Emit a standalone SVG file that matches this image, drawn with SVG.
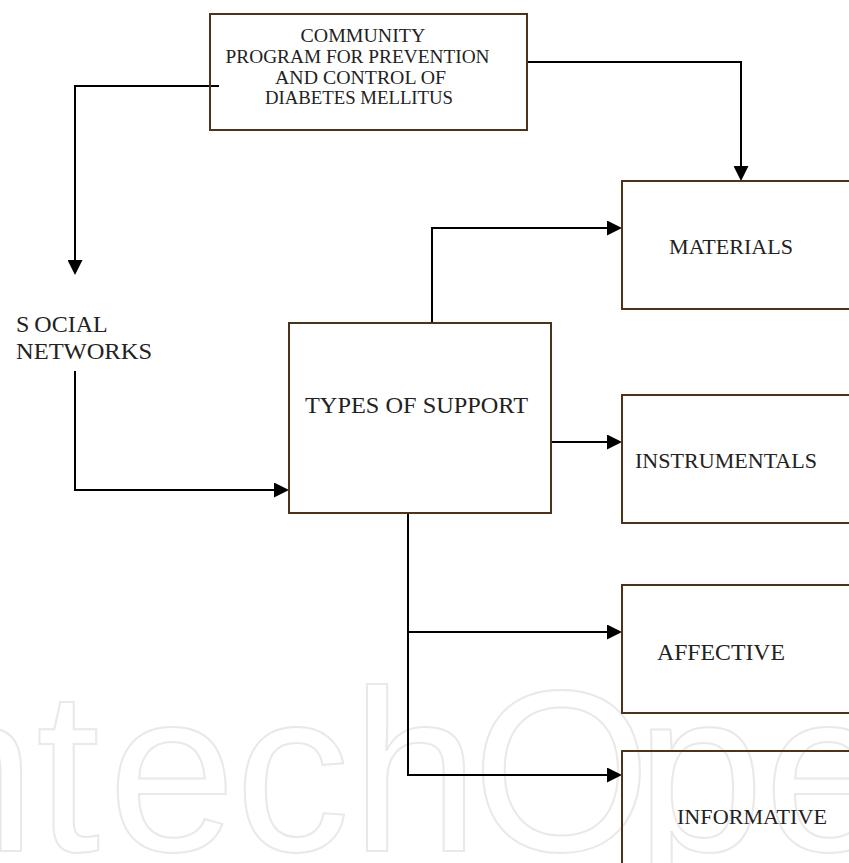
<svg xmlns="http://www.w3.org/2000/svg" width="849" height="863" viewBox="0 0 849 863">
<style>
.box{fill:none;stroke:#4d3319;stroke-width:2}
.lbl{font-family:"Liberation Serif","Times New Roman",serif;fill:#222;}
.con{fill:none;stroke:#000;stroke-width:2}
.wm{font-family:"Liberation Sans",Arial,sans-serif;font-size:230px;fill:none;stroke:#e9e9e9;stroke-width:2}
</style>
<defs>
<marker id="arr" markerUnits="userSpaceOnUse" markerWidth="15" markerHeight="15" viewBox="0 0 15 15" refX="7" refY="7.5" orient="auto">
<path d="M0,0 L15,7.5 L0,15 Z" fill="#000"/>
</marker>
</defs>
<rect width="849" height="863" fill="#fff"/>
<text class="wm" x="-170 -92 36 108 235 351 472 636 764 892" y="851">IntechOpen</text>

<g id="connectors">
<path class="con" d="M219,86 H75 V267" marker-end="url(#arr)"/>
<path class="con" d="M527,62 H741 V173" marker-end="url(#arr)"/>
<path class="con" d="M75,371 V490 H281" marker-end="url(#arr)"/>
<path class="con" d="M432,323 V228 H614" marker-end="url(#arr)"/>
<path class="con" d="M551,442 H614" marker-end="url(#arr)"/>
<path class="con" d="M408,513 V775 H614" marker-end="url(#arr)"/>
<path class="con" d="M408,632 H614" marker-end="url(#arr)"/>
</g>

<g id="program">
<rect class="box" x="210" y="14" width="317" height="116"/>
<text class="lbl" font-size="19.5" text-anchor="middle">
<tspan x="365" y="42" textLength="124" lengthAdjust="spacingAndGlyphs">COMMUNITY</tspan>
<tspan x="360" y="63" textLength="264" lengthAdjust="spacingAndGlyphs">PROGRAM FOR PREVENTION</tspan>
<tspan x="363" y="84" textLength="171" lengthAdjust="spacingAndGlyphs">AND CONTROL OF</tspan>
<tspan x="359" y="104" textLength="188" lengthAdjust="spacingAndGlyphs">DIABETES MELLITUS</tspan>
</text>
</g>

<g id="social-networks">
<text class="lbl" font-size="24"><tspan x="16" y="332">S</tspan><tspan dx="5">OCIAL</tspan><tspan x="16" y="359" textLength="136" lengthAdjust="spacingAndGlyphs">NETWORKS</tspan></text>
</g>

<g id="types-of-support">
<rect class="box" x="289" y="323" width="262" height="190"/>
<text class="lbl" font-size="24" x="305" y="413" textLength="223" lengthAdjust="spacingAndGlyphs">TYPES OF SUPPORT</text>
</g>

<g id="materials">
<rect class="box" x="622" y="181" width="260" height="128"/>
<text class="lbl" font-size="21" x="669" y="254" textLength="124" lengthAdjust="spacingAndGlyphs">MATERIALS</text>
</g>

<g id="instrumentals">
<rect class="box" x="622" y="395" width="260" height="128"/>
<text class="lbl" font-size="22" x="635" y="468" textLength="182" lengthAdjust="spacingAndGlyphs">INSTRUMENTALS</text>
</g>

<g id="affective">
<rect class="box" x="622" y="585" width="260" height="128"/>
<text class="lbl" font-size="22.5" x="657" y="660" textLength="128" lengthAdjust="spacingAndGlyphs">AFFECTIVE</text>
</g>

<g id="informative">
<rect class="box" x="622" y="751" width="260" height="140"/>
<text class="lbl" font-size="22" x="677" y="824" textLength="150" lengthAdjust="spacingAndGlyphs">INFORMATIVE</text>
</g>
</svg>
